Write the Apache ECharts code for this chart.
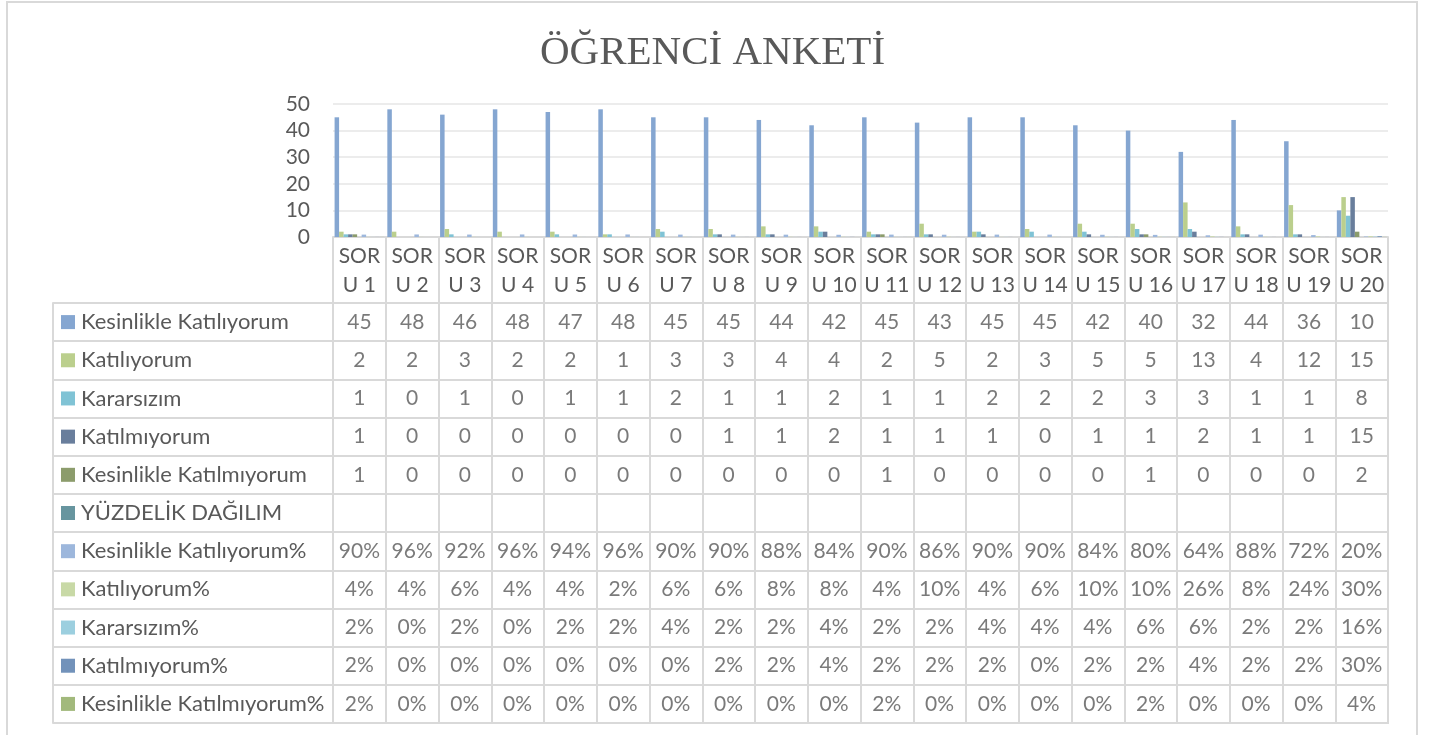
<!DOCTYPE html>
<html><head><meta charset="utf-8">
<script src="https://cdn.jsdelivr.net/npm/echarts@6/dist/echarts.min.js"></script>
<style>
html,body{margin:0;padding:0;background:#fff;}
#c{position:absolute;left:0;top:0;width:1433px;height:735px;}
#b{position:absolute;left:6px;top:1px;width:1412px;height:800px;border:2px solid #d9d9d9;box-sizing:border-box;pointer-events:none;}
</style></head>
<body>
<div id="c"></div><div id="b"></div>
<script>
const categories = ['SORU 1','SORU 2','SORU 3','SORU 4','SORU 5','SORU 6','SORU 7','SORU 8','SORU 9','SORU 10','SORU 11','SORU 12','SORU 13','SORU 14','SORU 15','SORU 16','SORU 17','SORU 18','SORU 19','SORU 20'];
const seriesNames = ['Kesinlikle Katılıyorum','Katılıyorum','Kararsızım','Katılmıyorum','Kesinlikle Katılmıyorum','YÜZDELİK DAĞILIM','Kesinlikle Katılıyorum%','Katılıyorum%','Kararsızım%','Katılmıyorum%','Kesinlikle Katılmıyorum%'];
const kesinlikleKatiliyorum = [45,48,46,48,47,48,45,45,44,42,45,43,45,45,42,40,32,44,36,10];
const katiliyorum = [2,2,3,2,2,1,3,3,4,4,2,5,2,3,5,5,13,4,12,15];
const kararsizim = [1,0,1,0,1,1,2,1,1,2,1,1,2,2,2,3,3,1,1,8];
const katilmiyorum = [1,0,0,0,0,0,0,1,1,2,1,1,1,0,1,1,2,1,1,15];
const kesinlikleKatilmiyorum = [1,0,0,0,0,0,0,0,0,0,1,0,0,0,0,1,0,0,0,2];
const yuzdelikDagilim = [null,null,null,null,null,null,null,null,null,null,null,null,null,null,null,null,null,null,null,null];
const kesinlikleKatiliyorumPct = [0.90,0.96,0.92,0.96,0.94,0.96,0.90,0.90,0.88,0.84,0.90,0.86,0.90,0.90,0.84,0.80,0.64,0.88,0.72,0.20];
const katiliyorumPct = [0.04,0.04,0.06,0.04,0.04,0.02,0.06,0.06,0.08,0.08,0.04,0.10,0.04,0.06,0.10,0.10,0.26,0.08,0.24,0.30];
const kararsizimPct = [0.02,0,0.02,0,0.02,0.02,0.04,0.02,0.02,0.04,0.02,0.02,0.04,0.04,0.04,0.06,0.06,0.02,0.02,0.16];
const katilmiyorumPct = [0.02,0,0,0,0,0,0,0.02,0.02,0.04,0.02,0.02,0.02,0,0.02,0.02,0.04,0.02,0.02,0.30];
const kesinlikleKatilmiyorumPct = [0.02,0,0,0,0,0,0,0,0,0,0.02,0,0,0,0,0.02,0,0,0,0.04];
const yTicks = [0,10,20,30,40,50];

const allData = [kesinlikleKatiliyorum,katiliyorum,kararsizim,katilmiyorum,kesinlikleKatilmiyorum,yuzdelikDagilim,kesinlikleKatiliyorumPct,katiliyorumPct,kararsizimPct,katilmiyorumPct,kesinlikleKatilmiyorumPct];
const isPct = [false,false,false,false,false,false,true,true,true,true,true];
const colors = ['#85a6d1','#bbcf8d','#80c3d5','#697e9c','#8c9c6c','#67959f','#9db7dc','#c8d9a6','#9ccfdf','#7292ba','#a2b97c'];
const TXT = '#595959', LINE = '#d9d9d9', FONT = 'Lato';

const rich = { t: { fontSize: 22, color: TXT, fontFamily: FONT, padding: [0,0,0,6] } };
colors.forEach((c,i)=>{ rich['s'+i] = { width: 14, height: 14, backgroundColor: c }; });

const barSeries = seriesNames.map((n,i)=>({
  name: n, type: 'bar', xAxisIndex: 0, yAxisIndex: 0,
  data: allData[i], itemStyle: { color: colors[i] },
  barGap: '0%', barCategoryGap: '6%', animation: false
}));

const cellData = [];
allData.forEach((arr,r)=>{
  arr.forEach((v,c)=>{
    if (v === null) return;
    cellData.push([c, r, isPct[r] ? Math.round(v*100)+'%' : String(v)]);
  });
});

const option = {
  animation: false,
  color: colors,
  title: { text: 'ÖĞRENCİ ANKETİ', left: 535, top: 28,
    textStyle: { fontFamily: 'Liberation Serif', fontSize: 41, fontWeight: 'normal', color: TXT } },
  grid: [
    { left: 333, width: 1055, top: 104, height: 133 },
    { left: 333, width: 1055, top: 303, height: 420, show: true, borderColor: LINE, borderWidth: 2 }
  ],
  xAxis: [
    { type: 'category', gridIndex: 0, data: categories,
      axisLine: { lineStyle: { color: LINE, width: 2 } },
      axisTick: { show: true, interval: 0, length: 66, lineStyle: { color: LINE, width: 2 } },
      axisLabel: { interval: 0, align: 'center', color: TXT, fontFamily: FONT, fontSize: 21, lineHeight: 29, margin: 5,
        formatter: v => v.slice(0,3) + '\n' + v.slice(3) } },
    { type: 'category', gridIndex: 1, data: categories,
      axisLine: { show: false }, axisTick: { show: false }, axisLabel: { show: false },
      splitLine: { show: true, interval: 0, lineStyle: { color: LINE, width: 2 } } }
  ],
  yAxis: [
    { type: 'value', gridIndex: 0, min: 0, max: 50, interval: 10,
      axisLine: { show: false }, axisTick: { show: false },
      axisLabel: { color: TXT, fontFamily: FONT, fontSize: 21, margin: 23 },
      splitLine: { lineStyle: { color: '#ececec', width: 2 } } },
    { type: 'category', gridIndex: 1, data: seriesNames, inverse: true,
      axisLine: { show: false },
      axisTick: { show: true, interval: 0, length: 280, lineStyle: { color: LINE, width: 2 } },
      axisLabel: { interval: 0, align: 'left', margin: 272, rich: rich,
        formatter: (v, i) => '{s' + i + '|}{t|' + v + '}' },
      splitLine: { show: true, interval: 0, lineStyle: { color: LINE, width: 2 } } },
    { type: 'category', gridIndex: 1, data: seriesNames, inverse: true, offset: 280, position: 'left',
      axisLine: { show: true, lineStyle: { color: LINE, width: 2 } },
      axisTick: { show: false }, axisLabel: { show: false }, splitLine: { show: false } }
  ],
  series: barSeries.concat([{
    type: 'scatter', xAxisIndex: 1, yAxisIndex: 1, data: cellData,
    symbolSize: 1, itemStyle: { color: 'rgba(0,0,0,0)' }, silent: true,
    label: { show: true, position: 'inside', color: TXT, fontFamily: FONT, fontSize: 21,
      formatter: p => p.data[2] }
  }])
};
const chart = echarts.init(document.getElementById('c'), null, { renderer: 'canvas' });
chart.setOption(option);
</script>
</body></html>
